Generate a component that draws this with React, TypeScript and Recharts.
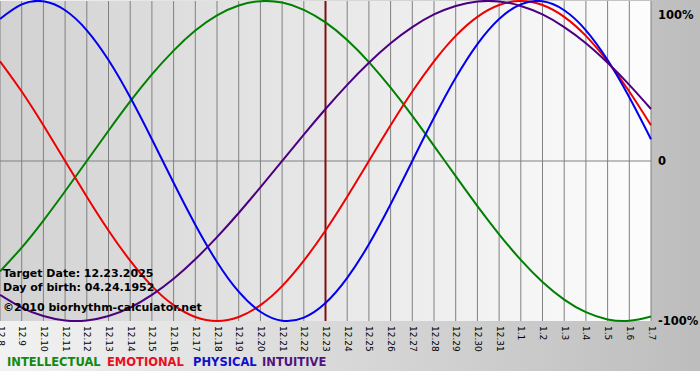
import { LineChart, Line, XAxis, YAxis, CartesianGrid, ReferenceLine } from "recharts";

// Biorhythm chart, 12.8 -> 1.7, target date 12.23.2025

const DATES = [
  "12.8", "12.9", "12.10", "12.11", "12.12", "12.13", "12.14", "12.15",
  "12.16", "12.17", "12.18", "12.19", "12.20", "12.21", "12.22", "12.23",
  "12.24", "12.25", "12.26", "12.27", "12.28", "12.29", "12.30", "12.31",
  "1.1", "1.2", "1.3", "1.4", "1.5", "1.6", "1.7",
];

const PHYSICAL = [
  88.8, 97.9, 99.8, 94.2, 81.7, 63.1, 39.8, 13.6, -13.6, -39.8, -63.1,
  -81.7, -94.2, -99.8, -97.9, -88.8, -73.1, -52.0, -27.0, 0, 27.0,
  52.0, 73.1, 88.8, 97.9, 99.8, 94.2, 81.7, 63.1, 39.8, 13.6,
];

const EMOTIONAL = [
  62.3, 43.4, 22.3, 0, -22.3, -43.4, -62.3, -78.2, -90.1, -97.5, -100,
  -97.5, -90.1, -78.2, -62.3, -43.4, -22.3, 0, 22.3, 43.4, 62.3,
  78.2, 90.1, 97.5, 100, 97.5, 90.1, 78.2, 62.3, 43.4, 22.3,
];

const INTELLECTUAL = [
  -69.0, -54.1, -37.2, -18.9, 0, 18.9, 37.2, 54.1, 69.0, 81.5, 91.0,
  97.2, 99.9, 99.0, 94.5, 86.6, 75.6, 61.8, 45.8, 28.2, 9.5,
  -9.5, -28.2, -45.8, -61.8, -75.6, -86.6, -94.5, -99.0, -99.9, -97.2,
];

const INTUITIVE = [
  -83.7, -91.6, -96.9, -99.7, -99.7, -96.9, -91.6, -83.7, -73.6, -61.4, -47.6,
  -32.5, -16.5, 0, 16.5, 32.5, 47.6, 61.4, 73.6, 83.7, 91.6,
  96.9, 99.7, 99.7, 96.9, 91.6, 83.7, 73.6, 61.4, 47.6, 32.5,
];

const Y_TICKS = [-100, 0, 100];
const TARGET_DATE = "12.23";

const LEGEND = [
  { label: "INTELLECTUAL", color: "#108a10", x: 7 },
  { label: "EMOTIONAL", color: "#e8101c", x: 107 },
  { label: "PHYSICAL", color: "#1010c8", x: 193 },
  { label: "INTUITIVE", color: "#52127e", x: 262 },
];

const INFO_LINES = [
  { text: "Target Date: 12.23.2025", y: 277 },
  { text: "Day of birth: 04.24.1952", y: 291 },
  { text: "\u00a92010 biorhythm-calculator.net", y: 311 },
];

const data = DATES.map((date, i) => ({
  date,
  intellectual: INTELLECTUAL[i],
  emotional: EMOTIONAL[i],
  physical: PHYSICAL[i],
  intuitive: INTUITIVE[i],
}));

const FONT = "'DejaVu Sans', Verdana, sans-serif";

function DateTick(props: any) {
  const { x, y, payload } = props;
  return (
    <text
      x={0}
      y={0}
      transform={`translate(${x - 2.5},${y}) rotate(90)`}
      fontSize={9}
      fontFamily={FONT}
      fill="#000"
      textAnchor="start"
    >
      {payload.value}
    </text>
  );
}

function PctTick(props: any) {
  const { x, y, payload } = props;
  const v = payload.value;
  const label = v === 0 ? "0" : `${v}%`;
  const dy = v === 100 ? 10 : 4;
  return (
    <text x={x} y={y + dy} fontSize={11.5} fontWeight="bold" fontFamily={FONT} fill="#000" textAnchor="start">
      {label}
    </text>
  );
}

export default function App() {
  return (
    <div style={{ position: "absolute", left: 0, top: 0, width: 700, height: 380, background: "#fff" }}>
      <div
        style={{
          position: "absolute",
          left: 0,
          top: 0,
          width: 700,
          height: 371,
          background: "linear-gradient(to right, #f2f2f2, #bdbdbd)",
        }}
      />
      <div style={{ position: "absolute", left: 0, top: 0 }}>
        <LineChart width={700} height={380} data={data} margin={{ top: 1, right: 0, bottom: 0, left: 0 }}>
          <defs>
            <linearGradient id="plotBg" x1="0" y1="0" x2="1" y2="0">
              <stop offset="0%" stopColor="#d2d2d2" />
              <stop offset="100%" stopColor="#fdfdfd" />
            </linearGradient>
          </defs>
          <CartesianGrid horizontal={false} stroke="#808080" fill="url(#plotBg)" fillOpacity={1} />
          <XAxis
            dataKey="date"
            interval={0}
            tickLine={false}
            axisLine={false}
            tickSize={0}
            tickMargin={5}
            height={59}
            tick={DateTick}
          />
          <YAxis
            orientation="right"
            domain={[-100, 100]}
            ticks={Y_TICKS}
            width={49}
            axisLine={false}
            tickLine={false}
            tickSize={0}
            tickMargin={7}
            tick={PctTick}
          />
          <ReferenceLine y={0} stroke="#808080" strokeWidth={1} />
          <ReferenceLine x={TARGET_DATE} stroke="#7e1010" strokeWidth={2} />
          <Line dataKey="intellectual" type="natural" stroke="#008000" strokeWidth={2} dot={false} isAnimationActive={false} />
          <Line dataKey="emotional" type="natural" stroke="#ee0000" strokeWidth={2} dot={false} isAnimationActive={false} />
          <Line dataKey="physical" type="natural" stroke="#0000ee" strokeWidth={2} dot={false} isAnimationActive={false} />
          <Line dataKey="intuitive" type="natural" stroke="#4b0082" strokeWidth={2} dot={false} isAnimationActive={false} />
        </LineChart>
      </div>
      <svg width={700} height={380} style={{ position: "absolute", left: 0, top: 0, pointerEvents: "none" }}>
        {INFO_LINES.map((l) => (
          <text key={l.text} x={3} y={l.y} fontSize={11} fontWeight="bold" fontFamily={FONT} fill="#000">
            {l.text}
          </text>
        ))}
        {LEGEND.map((l) => (
          <text key={l.label} x={l.x} y={366} fontSize={11.5} fontWeight="bold" fontFamily={FONT} fill={l.color}>
            {l.label}
          </text>
        ))}
      </svg>
    </div>
  );
}
